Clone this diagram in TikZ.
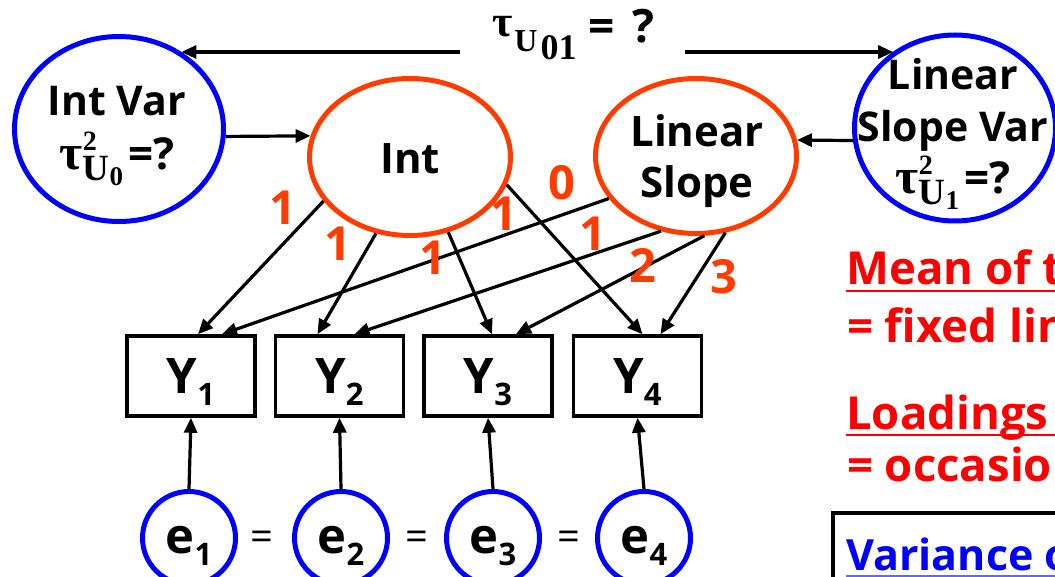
\documentclass[tikz,border=0pt]{standalone}
\usepackage{fontspec}
\setmainfont{Open Sans}
\newfontfamily\lserif{Liberation Serif}
\usetikzlibrary{shapes.geometric,arrows.meta}
\definecolor{orng}{RGB}{255,60,0}
\definecolor{blu}{RGB}{0,0,255}
\definecolor{rd}{RGB}{255,0,0}
\definecolor{lblu}{RGB}{100,100,255}
\newcommand\fsz[2]{\fontsize{#1}{#2}\selectfont}
\newcommand\tauvar[1]{{\lserif\bfseries\fsz{50}{54}τ\rlap{\raisebox{19pt}{\fsz{28}{28}2}}\raisebox{-11pt}{\fsz{37}{37}U}\raisebox{-16pt}{\fsz{27}{27}#1}}\hspace{5pt}{\fsz{44}{54}\bfseries=?}}
\newcommand\ysub[2]{#1\raisebox{-12pt}{\fsz{31}{31}#2}}
\begin{document}
\begin{tikzpicture}[x=1pt,y=-1pt,
  lat/.style={ellipse, draw=orng, line width=5pt, inner sep=0pt},
  rvar/.style={ellipse, draw=blu, line width=5pt, inner sep=0pt},
  txt/.style={inner sep=0pt, align=center, font=\fsz{41}{54}\bfseries},
  obs/.style={rectangle, draw, line width=3.5pt, minimum width=128pt, minimum height=80pt, inner sep=0pt, font=\fsz{49}{49}\bfseries, text height=46pt, text depth=12pt},
  err/.style={ellipse, draw=blu, line width=5pt, minimum width=93pt, minimum height=93pt, inner sep=0pt, font=\fsz{49}{49}\bfseries, text height=42pt, text depth=12pt},
  arr/.style={line width=3.2pt, -{Triangle[length=15pt,width=13pt]}},
  num/.style={text=orng, inner sep=0pt, font=\fsz{47}{47}\bfseries},
  side/.style={anchor=base west, inner sep=0pt, font=\fsz{45.5}{45.5}\bfseries},
  eq/.style={inner sep=0pt, font=\fsz{40}{40}},
]
\useasboundingbox (0,0) rectangle (1055,577);
\clip (0,0) rectangle (1055,577);

% latent and variance ellipses
\node[rvar, minimum width=209pt, minimum height=185pt] (intvar) at (119,129) {};
\node[lat, minimum width=201pt, minimum height=157pt] (int) at (410,157) {};
\node[lat, minimum width=201pt, minimum height=155pt] (slope) at (696,156) {};
\node[rvar, minimum width=201pt, minimum height=186pt] (slopevar) at (955,128) {};

\node[txt] (intvartxt) at (117,136) {Int Var\\ \tauvar{0}};
\node[txt, font=\fsz{42}{42}\bfseries] (inttxt) at (410,159) {Int};
\node[txt, font=\fsz{42}{51}\bfseries] (slopetxt) at (697,161) {Linear\\Slope};
\node[txt, font=\fsz{41}{52}\bfseries] (slopevartxt) at (953,134) {Linear\\Slope Var\\ \tauvar{1}};

% covariance label and arrows
\node[anchor=base west, inner sep=0pt] (tau) at (492,43)
  {{\lserif\bfseries\raisebox{6pt}{\fsz{44}{44}τ}\hspace{2pt}\raisebox{-9pt}{\fsz{32}{32}U}\hspace{3pt}\raisebox{-17pt}{\fsz{36}{36}01}}\hspace{12pt}{\fsz{46}{46}\bfseries=\hspace{18pt}?}};
\coordinate (tl) at (460,52);
\coordinate (tr) at (685,52);
\draw[arr] (tl) -- (tl -| intvar.51);
\draw[arr] (tr) -- (tr -| slopevar.129);

\draw[arr] (intvar.-4) -- (int.168);
\draw[arr] (slopevar.187) -- (slope.9);

% observed
\node[obs] (Y1) at (191,376) {\ysub{Y}{1}};
\node[obs] (Y2) at (339.5,376) {\ysub{Y}{2}};
\node[obs] (Y3) at (488,376) {\ysub{Y}{3}};
\node[obs] (Y4) at (637.5,376) {\ysub{Y}{4}};

% errors
\node[err] (e1) at (189,538) {\ysub{e}{1}};
\node[err] (e2) at (341,538) {\ysub{e}{2}};
\node[err] (e3) at (493,538) {\ysub{e}{3}};
\node[err] (e4) at (644,538) {\ysub{e}{4}};
\node[eq] (eq1) at (262,541) {=};
\node[eq] (eq2) at (417,541) {=};
\node[eq] (eq3) at (569,541) {=};

\foreach \i in {1,2,3,4} \draw[arr] (e\i.north) -- (Y\i.south);

% loadings
\draw[arr] (int.207) -- ([xshift=7pt]Y1.north);
\draw[arr] (int.246) -- ([xshift=-22pt]Y2.north);
\draw[arr] (int.297) -- ([xshift=4pt]Y3.north);
\draw[arr] (int.344) -- ([xshift=5pt]Y4.north);
\draw[arr] (slope.206) -- ([xshift=31pt]Y1.north);
\draw[arr] (slope.245) -- ([xshift=15pt]Y2.north);
\draw[arr] (slope.276) -- ([xshift=28pt]Y3.north);
\draw[arr] (slope.291) -- ([xshift=23pt]Y4.north);

\node[num] (l1) at (283,208) {1};
\node[num] (l2) at (338,244) {1};
\node[num] (l3) at (433,258) {1};
\node[num] (l4) at (504,214) {1};
\node[num] (s1) at (562,183) {0};
\node[num] (s2) at (593,234) {1};
\node[num] (s3) at (643,265) {2};
\node[num] (s4) at (724,277) {3};

% right side text
\node[side, text=rd] (mean) at (846,285) {Mean of t};
\draw[rd, line width=2.5pt] (846,291) -- (1055,291);
\node[side, text=rd] (fixed) at (847,342) {= fixed lin};
\node[side, text=rd] (load) at (846,429) {Loadings};
\draw[rd, line width=2.5pt] (846,435) -- (1055,435);
\node[side, text=rd] (occ) at (847,481) {= occasio};
\draw[line width=3.5pt] (833,600) -- (833,513) -- (1070,513);
\node[side, text=blu, font=\fsz{43}{43}\bfseries] (varo) at (846,570) {Variance o};
\draw[lblu, line width=2.5pt] (846,576) -- (1055,576);
\end{tikzpicture}
\end{document}
